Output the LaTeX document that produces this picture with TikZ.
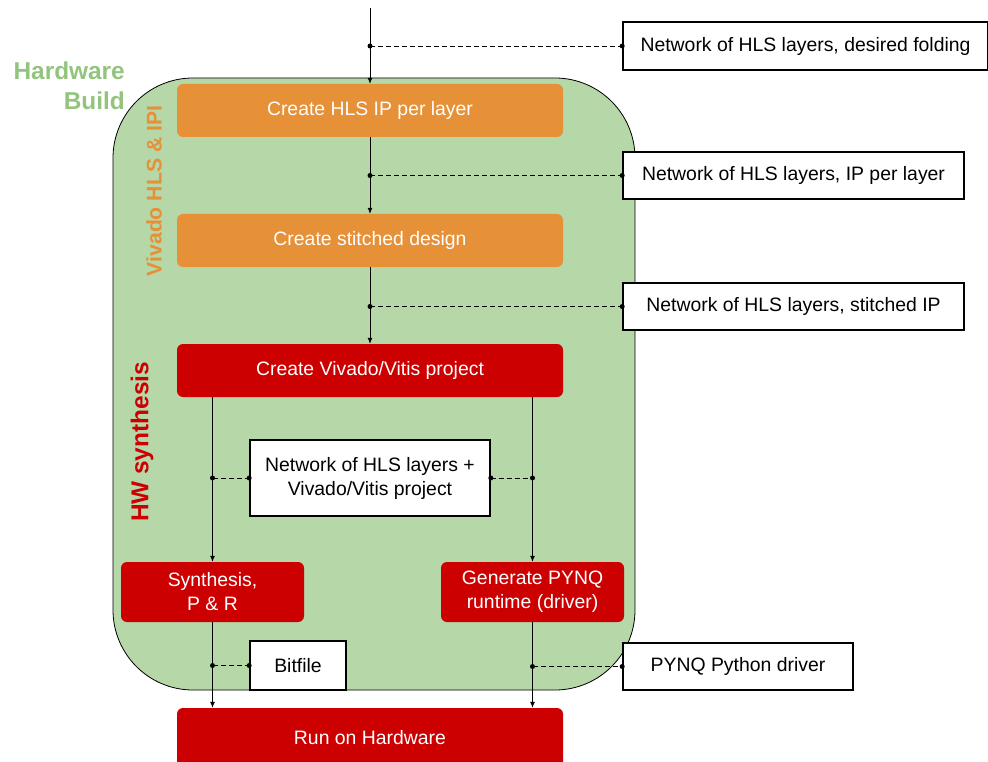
\documentclass[tikz,border=0pt]{standalone}
\usepackage{fontspec}
\setmainfont{Liberation Sans}
\usetikzlibrary{arrows.meta}
\definecolor{grn}{HTML}{B6D7A8}
\definecolor{grntxt}{HTML}{93C47D}
\definecolor{orng}{HTML}{E69138}
\definecolor{rd}{HTML}{CC0000}
\tikzset{
  flowbox/.style={rounded corners=6pt, text=white, align=center, inner sep=0pt, font=\fontsize{19.4}{24}\selectfont},
  orangebox/.style={flowbox, fill=orng},
  redbox/.style={flowbox, fill=rd},
  databox/.style={draw=black, line width=1.6pt, fill=white, align=center, inner sep=0pt, font=\fontsize{19.4}{24}\selectfont},
  flow/.style={line width=0.8pt, -{Latex[length=6pt,width=5pt]}},
  dashline/.style={line width=0.8pt, dash pattern=on 5pt off 3pt},
  dotmark/.style={circle, fill=black, inner sep=0pt, minimum size=5pt},
  grouplabel/.style={inner sep=0pt, font=\bfseries},
}
\begin{document}
\begin{tikzpicture}[x=1pt,y=-1pt]
\useasboundingbox (0,0) rectangle (988,762);
% group background
\draw[fill=grn, line width=0.8pt, rounded corners=80pt] (113,78) rectangle (635,690);
\node[grouplabel, text=grntxt, align=right, anchor=north east, font=\fontsize{24.4}{30}\selectfont\bfseries] (hb) at (125,62) {Hardware\\Build};
\node[grouplabel, text=orng, rotate=90, font=\fontsize{21.2}{26}\selectfont\bfseries] (vlab) at (154,191) {Vivado HLS \& IPI};
\node[grouplabel, text=rd, rotate=90, font=\fontsize{24.4}{30}\selectfont\bfseries] (hwlab) at (142,442) {HW synthesis};
% process boxes
\node[orangebox, minimum width=386pt, minimum height=53pt] (hls) at (370,110.5) {Create HLS IP per layer};
\node[orangebox, minimum width=386pt, minimum height=53pt] (stitch) at (370,240.5) {Create stitched design};
\node[redbox, minimum width=386pt, minimum height=53pt] (viv) at (370,370.5) {Create Vivado/Vitis project};
\node[redbox, minimum width=183pt, minimum height=60pt] (syn) at (212.5,592) {Synthesis,\\P \& R};
\node[redbox, minimum width=183pt, minimum height=60pt] (gen) at (532.5,592) {Generate PYNQ\\runtime (driver)};
\node[redbox, minimum width=386pt, minimum height=60pt] (run) at (370,738) {Run on Hardware};
% data boxes
\node[databox, minimum width=365pt, minimum height=48pt] (d1) at (805.5,46) {Network of HLS layers, desired folding};
\node[databox, minimum width=341pt, minimum height=47pt] (d2) at (793.5,175.5) {Network of HLS layers, IP per layer};
\node[databox, minimum width=341pt, minimum height=47pt] (d3) at (793.5,306.5) {Network of HLS layers, stitched IP};
\node[databox, minimum width=240pt, minimum height=76pt] (d4) at (370,478) {Network of HLS layers +\\Vivado/Vitis project};
\node[databox, minimum width=96pt, minimum height=49pt] (d5) at (298,665.5) {Bitfile};
\node[databox, minimum width=230pt, minimum height=47pt] (d6) at (738,666.5) {PYNQ Python driver};
% flow connectors
\coordinate (start) at (370,8);
\draw[flow] (start) -- (hls.north);
\draw[flow] (hls.south) -- (stitch.north);
\draw[flow] (stitch.south) -- (viv.north);
\draw[flow] (viv.south -| syn.north) -- (syn.north);
\draw[flow] (viv.south -| gen.north) -- (gen.north);
\draw[flow] (syn.south) -- (syn.south |- run.north);
\draw[flow] (gen.south) -- (gen.south |- run.north);
% taps
\coordinate (t1) at (370,46);
\coordinate (t2) at (370,175.5);
\coordinate (t3) at (370,306.5);
\coordinate (t4) at (212.5,478);
\coordinate (t5) at (532.5,478);
\coordinate (t6) at (212.5,665.5);
\coordinate (t7) at (532.5,666.5);
\draw[dashline] (t1) -- (d1.west);
\draw[dashline] (t2) -- (d2.west);
\draw[dashline] (t3) -- (d3.west);
\draw[dashline] (t4) -- (d4.west);
\draw[dashline] (d4.east) -- (t5);
\draw[dashline] (t6) -- (d5.west);
\draw[dashline] (t7) -- (d6.west);
\foreach \p in {t1,t2,t3,t4,t5,t6,t7} \node[dotmark] at (\p) {};
\foreach \p in {d1.west,d2.west,d3.west,d4.west,d4.east,d5.west,d6.west} \node[dotmark] at (\p) {};
\end{tikzpicture}
\end{document}
